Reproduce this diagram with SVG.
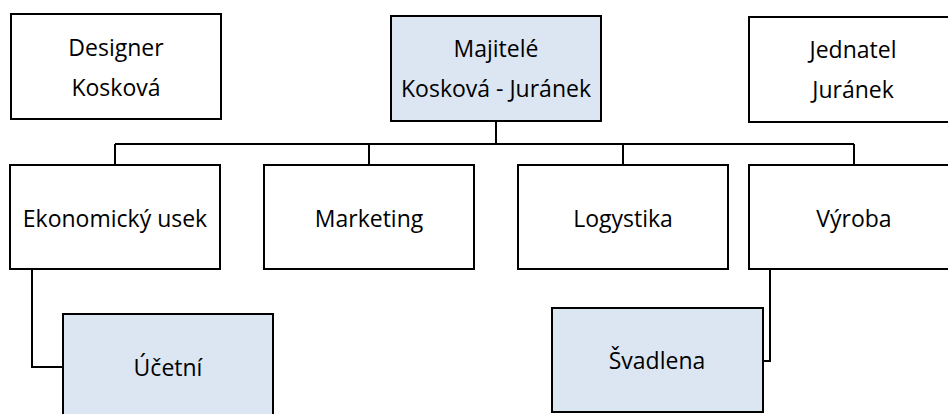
<svg xmlns="http://www.w3.org/2000/svg" width="948" height="414" viewBox="0 0 948 414">
<style>
.box{fill:#ffffff;stroke:#000000;stroke-width:2}
.hl{fill:#dce6f2;stroke:#000000;stroke-width:2}
.t{font-family:"Open Sans","Liberation Sans",sans-serif;font-size:23px;fill:#000000;text-anchor:middle}
.c{fill:none;stroke:#000000;stroke-width:2}
</style>
<rect width="948" height="414" fill="#ffffff"/>
<g id="connectors">
<path class="c" d="M496,121 V144"/>
<path class="c" d="M115,144 H854"/>
<path class="c" d="M115,144 V165 M369,144 V165 M623,144 V165 M854,144 V165"/>
<path class="c" d="M32,269 V367 H63"/>
<path class="c" d="M770,269 V361 H763"/>
</g>
<g id="designer"><rect class="box" x="11" y="14" width="210" height="105"/><text class="t" x="116" y="56">Designer</text><text class="t" x="116" y="96">Kosková</text></g>
<g id="majitele"><rect class="hl" x="391" y="16" width="210" height="105"/><text class="t" x="496" y="57">Majitelé</text><text class="t" x="496" y="97">Kosková - Juránek</text></g>
<g id="jednatel"><rect class="box" x="749" y="17" width="210" height="105"/><text class="t" x="853" y="58">Jednatel</text><text class="t" x="853" y="98">Juránek</text></g>
<g id="ekonomicky"><rect class="box" x="10" y="165" width="210" height="104"/><text class="t" x="115" y="227">Ekonomický usek</text></g>
<g id="marketing"><rect class="box" x="264" y="165" width="210" height="104"/><text class="t" x="369" y="227">Marketing</text></g>
<g id="logistika"><rect class="box" x="518" y="165" width="210" height="104"/><text class="t" x="623" y="227">Logystika</text></g>
<g id="vyroba"><rect class="box" x="749" y="165" width="210" height="104"/><text class="t" x="854" y="227">Výroba</text></g>
<g id="ucetni"><rect class="hl" x="63" y="314" width="210" height="110"/><text class="t" x="168" y="376">Účetní</text></g>
<g id="svadlena"><rect class="hl" x="552" y="308" width="211" height="104"/><text class="t" x="657" y="369">Švadlena</text></g>
</svg>
